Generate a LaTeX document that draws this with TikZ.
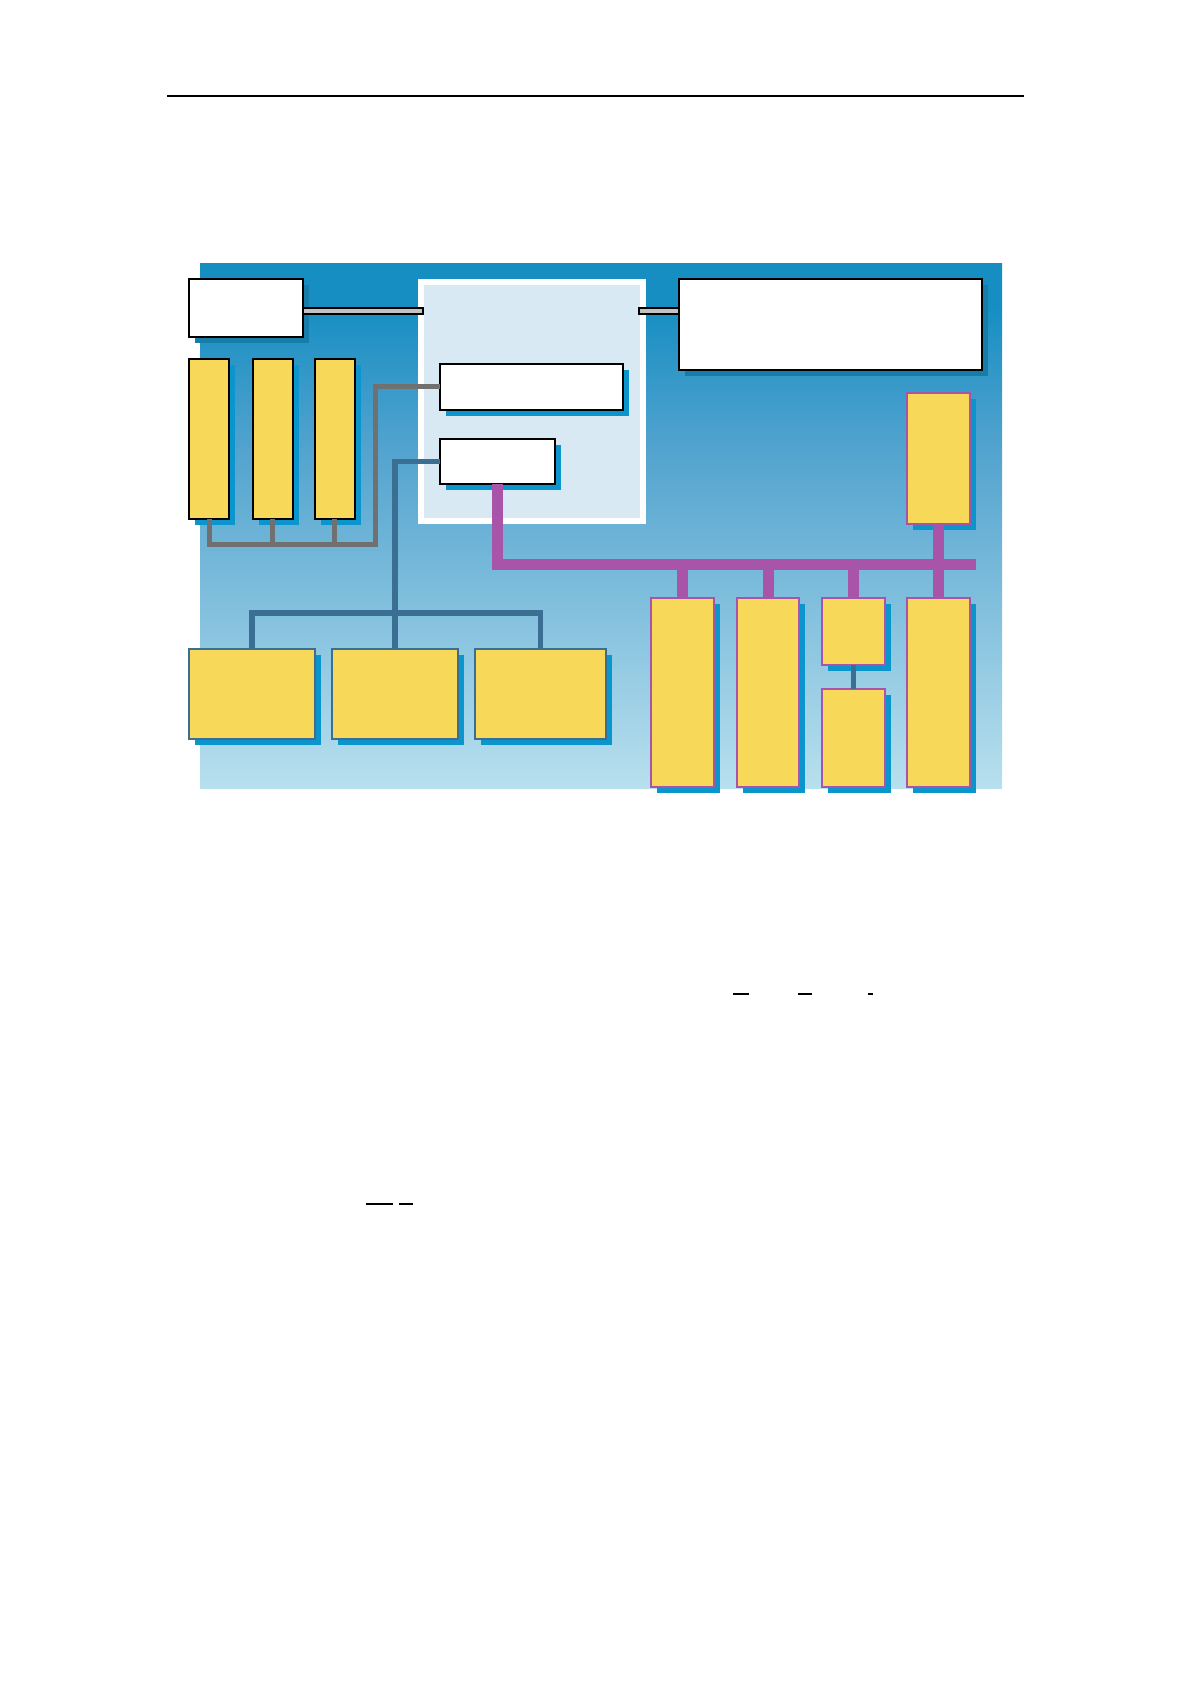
\documentclass[tikz,border=0pt]{standalone}
\usetikzlibrary{shadows, calc}

\definecolor{sheettop}{RGB}{22,142,194}
\definecolor{sheetmid}{RGB}{80,162,206}
\definecolor{sheetbot}{RGB}{184,224,238}
\definecolor{panelblue}{RGB}{216,233,243}
\definecolor{rackyellow}{RGB}{247,216,88}
\definecolor{shadowblue}{RGB}{10,150,204}
\definecolor{deepshadow}{RGB}{24,124,168}
\definecolor{busgray}{RGB}{112,112,112}
\definecolor{bussteel}{RGB}{58,111,147}
\definecolor{busmagenta}{RGB}{168,84,168}
\definecolor{bargray}{RGB}{195,195,195}

\pgfdeclareverticalshading{sheetfade}{100bp}{color(0bp)=(sheetbot); color(25bp)=(sheetbot); color(58bp)=(sheetmid); color(71bp)=(sheettop); color(100bp)=(sheettop)}

\tikzset{
  whitebox/.style={draw=black, line width=1pt, fill=white, inner sep=0pt, outer sep=0pt},
  rackbox/.style={fill=rackyellow, inner sep=0pt, outer sep=0pt},
  boxshadow/.style={drop shadow={shadow xshift=3pt, shadow yshift=-3pt, fill=shadowblue, opacity=1}},
  topshadow/.style={drop shadow={shadow xshift=3pt, shadow yshift=-3pt, fill=deepshadow, opacity=1}},
  panel/.style={draw=white, line width=2.8pt, fill=panelblue, inner sep=0pt, outer sep=0pt},
  linkbar/.style={draw=black, line width=0.6pt, fill=bargray},
  graybus/.style={draw=busgray, line width=2.5pt},
  steelbus/.style={draw=bussteel, line width=2.6pt},
  magbus/.style={draw=busmagenta, line width=5.5pt},
  thinrule/.style={draw=black, line width=0.7pt}
}

\begin{document}
\begin{tikzpicture}[x=0.5pt, y=-0.5pt]
\useasboundingbox (0,0) rectangle (1190,1684);

% Page rule
\draw[thinrule] (167,96) -- (1024,96);

% Sheet background
\shade[shading=sheetfade] (200,264) rectangle (1002,788);

% Central panel
\node[panel, minimum width=111pt, minimum height=119.5pt] (panel) at (532,401.5) {};

% White boxes
\node[whitebox, topshadow, minimum width=57pt, minimum height=29pt] (host) at (246,308) {};
\node[whitebox, topshadow, minimum width=151.5pt, minimum height=45.5pt] (net) at (830.5,324.5) {};
\node[whitebox, boxshadow, minimum width=91.5pt, minimum height=23pt] (cpu) at (531.5,387) {};
\node[whitebox, boxshadow, minimum width=57.5pt, minimum height=22.5pt] (port) at (497.5,461.5) {};

% Racks on the left
\foreach \x/\n in {209/r1, 272.5/r2, 334.5/r3}
  \node[rackbox, boxshadow, draw=black, line width=1pt, minimum width=20pt, minimum height=80pt] (\n) at (\x,439) {};

% Units below
\node[rackbox, boxshadow, draw=bussteel, line width=0.8pt, minimum width=63pt, minimum height=45pt] (f1) at (252,694) {};
\node[rackbox, boxshadow, draw=bussteel, line width=0.8pt, minimum width=63pt, minimum height=45pt] (f2) at (395,694) {};
\node[rackbox, boxshadow, draw=bussteel, line width=0.8pt, minimum width=65.5pt, minimum height=45pt] (f3) at (540.5,694) {};

% Units on the right
\node[rackbox, boxshadow, draw=busmagenta, line width=0.6pt, minimum width=31.5pt, minimum height=65.5pt] (e1) at (938.5,458.5) {};
\node[rackbox, boxshadow, draw=busmagenta, line width=0.6pt, minimum width=31.5pt, minimum height=94.5pt] (g1) at (682.5,692.5) {};
\node[rackbox, boxshadow, draw=busmagenta, line width=0.6pt, minimum width=31pt, minimum height=94.5pt] (g2) at (768,692.5) {};
\node[rackbox, boxshadow, draw=busmagenta, line width=0.6pt, minimum width=31.5pt, minimum height=33.5pt] (g3a) at (853.5,631.5) {};
\node[rackbox, boxshadow, draw=busmagenta, line width=0.6pt, minimum width=31.5pt, minimum height=49pt] (g3b) at (853.5,738) {};
\node[rackbox, boxshadow, draw=busmagenta, line width=0.6pt, minimum width=31.5pt, minimum height=94.5pt] (g4) at (938.5,692.5) {};

% Link bars
\filldraw[linkbar] (host.east) rectangle ($(host.east -| panel.west)+(2,6)$);
\filldraw[linkbar] ($(host.east -| panel.east)+(-4,0)$) rectangle ($(host.east -| net.west)+(0,6)$);

% Gray bus
\coordinate (gcorner) at (375,544);
\draw[graybus] (r1.south) |- (gcorner) |- (cpu.west);
\draw[graybus] (r2.south) -- (r2.south |- gcorner);
\draw[graybus] (r3.south) -- (r3.south |- gcorner);

% Steel bus
\draw[steelbus] (port.west) -| (f2.north);
\draw[steelbus] (f1.north) -- ++(0,-36) -| (f3.north);
\draw[steelbus] (g3a.south) -- (g3b.north);

% Magenta bus
\coordinate (mend) at (976,564);
\draw[magbus] (port.south) |- (mend);
\foreach \n in {g1, g2, g3a}
  \draw[magbus] (\n.north) -- (\n.north |- mend);
\draw[magbus] (e1.south) -- (g4.north);

% Overline remnants
\draw[thinrule] (733,994) -- (749,994);
\draw[thinrule] (798,994) -- (812,994);
\draw[thinrule] (868,994) -- (873,994);
\draw[thinrule] (366,1204) -- (393,1204);
\draw[thinrule] (399,1204) -- (413,1204);
\end{tikzpicture}
\end{document}
